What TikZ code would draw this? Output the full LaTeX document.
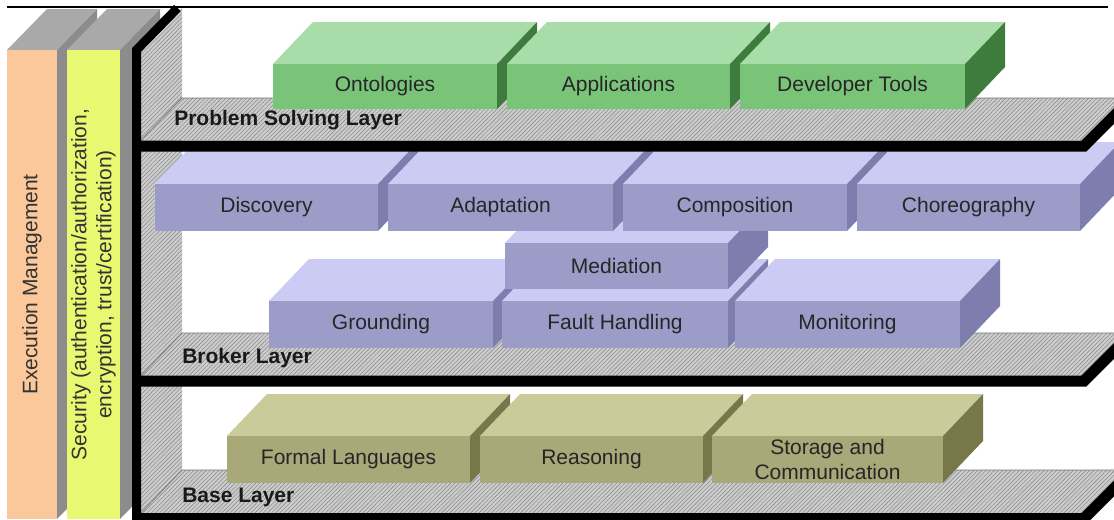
\documentclass[tikz,border=0pt]{standalone}
\usepackage{fontspec}
\setmainfont{Liberation Sans}
\usetikzlibrary{patterns.meta}

\definecolor{orangepill}{HTML}{FBC89B}
\definecolor{yellowpill}{HTML}{E8F870}
\definecolor{pilltop}{HTML}{A9A9A9}
\definecolor{pillside}{HTML}{8C8C8C}
\definecolor{hatchbg}{HTML}{CDCDCD}
\definecolor{hatchln}{HTML}{8E8E8E}
\definecolor{greentop}{HTML}{A8DCA8}
\definecolor{greenfront}{HTML}{7AC47A}
\definecolor{greenside}{HTML}{3E7C3E}
\definecolor{lavtop}{HTML}{CBCBF4}
\definecolor{lavfront}{HTML}{9C9CC9}
\definecolor{lavside}{HTML}{7D7DAE}
\definecolor{olivetop}{HTML}{CACA9B}
\definecolor{olivefront}{HTML}{A8A878}
\definecolor{oliveside}{HTML}{77774A}
\definecolor{txt}{HTML}{262626}

\tikzset{
  lbl/.style={font=\fontsize{15.75}{18.75}\selectfont, text=txt, align=center},
  slabfront/.style={lbl, draw=none, inner sep=0pt, rectangle},
  pillar/.style={lbl, draw=none, inner sep=0pt, rectangle, rotate=90, text=black!80},
  layerlbl/.style={font=\fontsize{15.75}{18.75}\selectfont\bfseries, text=black!90, anchor=west, inner sep=0pt},
  hatch/.style={preaction={fill=hatchbg}, pattern={Lines[angle=45,distance=2.2pt,line width=0.45pt]}, pattern color=hatchln},
  edgeline/.style={draw=black!55, line width=0.5pt},
  sideband/.style={line width=6.75pt, black, line join=miter},
  shelfband/.style={line width=8.25pt, black, line join=miter},
}

\newcommand{\slab}[7]{%
  \fill[#6top] (#2,#4) -- ({#2+40},{#4-42}) -- ({#3+40},{#4-42}) -- (#3,#4) -- cycle;
  \fill[#6side] (#3,#4) -- ({#3+40},{#4-42}) -- ({#3+40},{#5-42}) -- (#3,#5) -- cycle;
  \pgfmathsetmacro\slabw{(#3-#2)*0.75}%
  \pgfmathsetmacro\slabh{(#5-#4)*0.75}%
  \node[slabfront, fill=#6front, minimum width=\slabw pt, minimum height=\slabh pt] (#1) at ({(#2+#3)/2},{(#4+#5)/2}) {#7};
}

\begin{document}
\begin{tikzpicture}[x=0.75pt,y=-0.75pt]
\useasboundingbox (0,0) rectangle (1114,519);
\clip (0,0) rectangle (1114,519);
\fill[white] (0,0) rectangle (1114,519);

% pillars
\fill[pilltop] (7,50) -- (47,9) -- (97,9) -- (57,50) -- cycle;
\fill[pillside] (57,50) -- (97,9) -- (97,478) -- (57,519) -- cycle;
\node[pillar, fill=orangepill, minimum width=351.75pt, minimum height=37.5pt] (exec) at (32,284.5) {Execution Management};
\fill[pilltop] (67,50) -- (107,9) -- (160,9) -- (120,50) -- cycle;
\fill[pillside] (120,50) -- (160,9) -- (160,478) -- (120,519) -- cycle;
\node[pillar, fill=yellowpill, minimum width=351.75pt, minimum height=39.75pt] (sec) at (93.5,284.5) {Security (authentication/authorization,\\encryption, trust/certification)};

% side panel and shelves
\path[hatch] (141,50) -- (182,8) -- (182,519) -- (141,519) -- cycle;
\path[hatch] (141,140) -- (182,98) -- (1126,98) -- (1084,140) -- cycle;
\path[hatch] (141,376) -- (182,333) -- (1126,333) -- (1084,376) -- cycle;
\path[hatch] (141,513) -- (182,470) -- (1126,470) -- (1084,513) -- cycle;
\draw[edgeline] (141,140) -- (182,98) -- (1126,98);
\draw[edgeline] (141,376) -- (182,333) -- (1126,333);
\draw[edgeline] (141,513) -- (182,470) -- (1126,470);

% problem solving layer
\slab{onto}{273}{497}{64}{109}{green}{Ontologies}
\slab{apps}{507}{730}{64}{109}{green}{Applications}
\slab{devtools}{740}{965}{64}{109}{green}{Developer Tools}

% broker layer
\slab{ground}{269}{493}{301}{348}{lav}{Grounding}
\slab{fault}{502}{728}{301}{348}{lav}{Fault Handling}
\slab{monitor}{735}{960}{301}{348}{lav}{Monitoring}
\slab{mediation}{505}{728}{243}{289}{lav}{Mediation}
\slab{discovery}{155}{378}{184}{231}{lav}{Discovery}
\slab{adapt}{388}{613}{184}{231}{lav}{Adaptation}
\slab{compo}{623}{847}{184}{231}{lav}{Composition}
\slab{choreo}{857}{1080}{184}{231}{lav}{Choreography}

% base layer
\slab{formal}{227}{470}{436}{483}{olive}{Formal Languages}
\slab{reason}{480}{703}{436}{483}{olive}{Reasoning}
\slab{storage}{712}{943}{436}{483}{olive}{Storage and\\Communication}

% black frame
\draw[sideband] (177.5,8) -- (136.5,50) -- (136.5,530);
\draw[shelfband] (136,146) -- (1084,146) -- (1126,104);
\draw[shelfband] (136,381) -- (1084,381) -- (1126,339);
\draw[shelfband] (136,518.5) -- (1084,518.5) -- (1126,476.5);
\draw[line width=1.1pt] (7,7) -- (1108,7);

% layer labels
\node[layerlbl] (pslabel) at (174,120) {Problem Solving Layer};
\node[layerlbl] (brokerlabel) at (182,358) {Broker Layer};
\node[layerlbl] (baselabel) at (182,497) {Base Layer};
\end{tikzpicture}
\end{document}
